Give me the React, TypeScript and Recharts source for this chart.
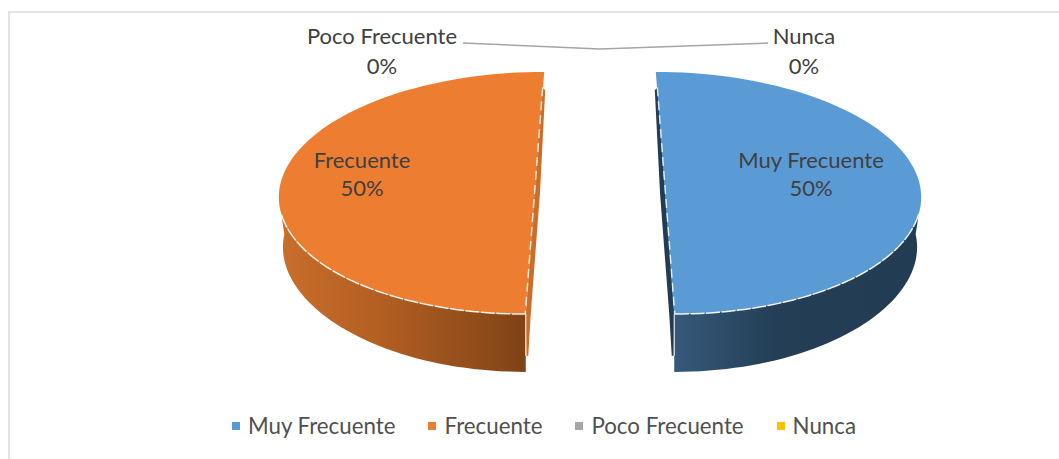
import { PieChart, Pie, Cell, Legend } from 'recharts';

const categories = ['Muy Frecuente', 'Frecuente', 'Poco Frecuente', 'Nunca'];
const values = [50, 50, 0, 0];
const colors = ['#5B9BD5', '#ED7D31', '#A5A5A5', '#FFC000'];

const data = categories.map((name, i) => ({ name, value: values[i] }));

const FONT = 'Lato, Carlito, sans-serif';
const TEXT_COLOR = '#404040';
const RADIUS = 256;

// label baseline relative to the pie centre, one per category
const labelOffsets = [
  { dx: 211, dy: -25 },
  { dx: -238, dy: -25 },
  { dx: -218, dy: -149 },
  { dx: 204, dy: -149 },
];

const sideGradients: Record<string, string[]> = {
  '#5B9BD5': ['#36597A', '#233E55', '#223C54'],
  '#ED7D31': ['#C96E2B', '#B25E22', '#7F4316'],
};

// tilted, slightly perspective view of the flat pie
function project(cx: number, cy: number, r: number, deg: number, side: number, drop = 0) {
  const a = (deg * Math.PI) / 180;
  const s = Math.sin(a);
  const c = Math.cos(a);
  const shrink = drop ? 0.984 : 1;
  const gap = side * (r * 0.254 - r * 0.036 * s);
  return {
    x: cx + gap + r * shrink * c,
    y: cy + drop * (0.86 + 0.14 * s * s) - r * 0.473 * s,
  };
}

function PieSlice(props: any) {
  const { cx, cy, outerRadius: r, startAngle, endAngle, midAngle, fill } = props;
  if (startAngle === endAngle) return null;
  const side = Math.cos((midAngle * Math.PI) / 180) >= 0 ? 1 : -1;
  const drop = r * 0.226;
  const id = `side-${side > 0 ? 'r' : 'l'}`;
  const top: string[] = [];
  const bottom: string[] = [];
  const rim: string[] = [];
  const steps = 90;
  for (let i = 0; i <= steps; i++) {
    const deg = startAngle + ((endAngle - startAngle) * i) / steps;
    const p = project(cx, cy, r, deg, side);
    top.push(`${p.x},${p.y}`);
    const q = project(cx, cy, r, deg, side, drop);
    bottom.push(`${q.x},${q.y}`);
    if (Math.sin((deg * Math.PI) / 180) < -0.15) rim.push(`${p.x},${p.y}`);
  }
  const lower = bottom.filter((_, i) => {
    const deg = startAngle + ((endAngle - startAngle) * i) / steps;
    return Math.sin((deg * Math.PI) / 180) < 0.1;
  });
  const upperEdge = project(cx, cy, r, startAngle, side);
  const lowerEdge = project(cx, cy, r, endAngle, side);
  const a = side > 0 ? upperEdge : lowerEdge;
  const b = side > 0 ? lowerEdge : upperEdge;
  const edgeTop = { x: a.x, y: a.y + r * 0.06 };
  const edgeEnd = { x: b.x, y: b.y + drop * 0.72 };
  const midX = (a.x + b.x) / 2;
  const midY = (a.y + b.y) / 2;
  const stops = sideGradients[fill] || [fill, fill, fill];
  const cutFace = [
    `${edgeTop.x + side * 2},${edgeTop.y}`,
    `${b.x},${b.y}`,
    `${edgeEnd.x - side * 0.5},${edgeEnd.y}`,
    `${edgeEnd.x - side * 2.5},${edgeEnd.y}`,
    `${b.x - side * 5},${b.y}`,
    `${midX - side * 5},${midY}`,
    `${edgeTop.x - side * 1},${edgeTop.y + 3}`,
  ].join(' ');
  return (
    <g>
      <defs>
        <linearGradient id={id} x1="0" y1="0" x2="1" y2="0">
          <stop offset="0%" stopColor={stops[0]} />
          <stop offset="42%" stopColor={stops[1]} />
          <stop offset="100%" stopColor={stops[2]} />
        </linearGradient>
      </defs>
      <polygon points={[...rim, ...lower.slice().reverse()].join(' ')} fill={`url(#${id})`} />
      <polygon points={cutFace} fill={side > 0 ? stops[2] : '#C96E2B'} />
      <polygon points={top.join(' ')} fill={fill} />
      <polyline
        points={rim.join(' ')}
        fill="none"
        stroke="#fff"
        strokeWidth={1.5}
        strokeOpacity={0.9}
        strokeDasharray="14 1.5"
      />
      <line
        x1={edgeTop.x + side * 1.5}
        y1={edgeTop.y}
        x2={b.x + side * 0.5}
        y2={b.y}
        stroke="#fff"
        strokeOpacity={0.8}
        strokeWidth={1.5}
        strokeDasharray="9 5"
      />
      <line x1={b.x} y1={b.y} x2={edgeEnd.x} y2={edgeEnd.y} stroke="#fff" strokeOpacity={0.8} strokeWidth={1.2} />
    </g>
  );
}

function SliceLabel(props: any) {
  const { cx, cy, index, name, percent } = props;
  const off = labelOffsets[index];
  const x = cx + off.dx;
  const y = cy + off.dy;
  return (
    <text x={x} y={y} textAnchor="middle" fontFamily={FONT} fontSize={22} fill={TEXT_COLOR}>
      <tspan x={x} dy={0}>{name}</tspan>
      <tspan x={x} dy={index < 2 ? 28 : 30}>{`${Math.round(percent * 100)}%`}</tspan>
    </text>
  );
}

function LeaderLine(props: any) {
  const { cx, cy, index, outerRadius: r } = props;
  if (index < 2) return null;
  const sign = index === 2 ? -1 : 1;
  const tipY = cy - r * 0.5625;
  const endX = cx + sign * (index === 2 ? 137 : 168);
  return (
    <polyline
      points={`${cx},${tipY} ${endX},${tipY - 6}`}
      fill="none"
      stroke="#A5A5A5"
      strokeWidth={1.5}
    />
  );
}

function LegendRow({ payload }: any) {
  return (
    <div
      style={{
        display: 'flex',
        justifyContent: 'center',
        alignItems: 'center',
        gap: 33,
        fontFamily: FONT,
        fontSize: 22.3,
        color: '#505050',
      }}
    >
      {(payload || []).map((item: any) => (
        <span key={item.value} style={{ display: 'flex', alignItems: 'center', gap: 8 }}>
          <span style={{ width: 8, height: 8, background: item.color, display: 'inline-block' }} />
          {item.value}
        </span>
      ))}
    </div>
  );
}

export default function App() {
  return (
    <div style={{ position: 'absolute', left: 0, top: 0, width: 1059, height: 459, overflow: 'hidden' }}>
      <div
        style={{
          position: 'absolute',
          left: 8,
          top: 11,
          width: 1060,
          height: 460,
          border: '2px solid #E2E2E2',
        }}
      />
      <PieChart width={1059} height={459} margin={{ top: 0, right: 0, bottom: 0, left: 0 }}>
        <Pie
          data={data}
          dataKey="value"
          nameKey="name"
          cx={600}
          cy={193}
          outerRadius={RADIUS}
          startAngle={90}
          endAngle={-270}
          isAnimationActive={false}
          shape={PieSlice}
          label={SliceLabel}
          labelLine={LeaderLine}
        >
          {data.map((d, i) => (
            <Cell key={d.name} fill={colors[i]} />
          ))}
        </Pie>
        <Legend
          content={<LegendRow />}
          layout="horizontal"
          verticalAlign="bottom"
          itemSorter={null}
          wrapperStyle={{ bottom: 20, left: 0, width: 1088 }}
        />
      </PieChart>
    </div>
  );
}
